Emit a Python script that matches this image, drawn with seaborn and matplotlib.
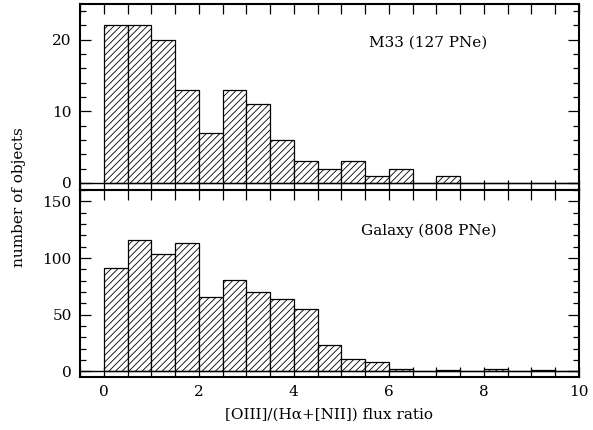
import numpy as np
import matplotlib
matplotlib.use("Agg")
import matplotlib.pyplot as plt
from matplotlib.ticker import MultipleLocator
import seaborn as sns

# bins in [OIII]/(Ha+[NII]) flux ratio
bin_edges = [0.0, 0.5, 1.0, 1.5, 2.0, 2.5, 3.0, 3.5, 4.0, 4.5, 5.0,
             5.5, 6.0, 6.5, 7.0, 7.5, 8.0, 8.5, 9.0, 9.5, 10.0]
m33_counts = [22, 22, 20, 13, 7, 13, 11, 6, 3, 2,
              3, 1, 2, 0, 1, 0, 0, 0, 0, 0]
galaxy_counts = [91, 116, 104, 113, 66, 81, 70, 64, 55, 23,
                 11, 8, 2, 0, 1, 0, 2, 0, 1, 0]
x_ticks = [0, 2, 4, 6, 8, 10]
m33_label = "M33 (127 PNe)"
galaxy_label = "Galaxy (808 PNe)"

sns.set_theme(style="ticks")
plt.rcParams['font.family'] = ['DejaVu Serif']
plt.rcParams['hatch.linewidth'] = 0.6
plt.rcParams['hatch.color'] = 'black'
plt.rcParams['text.color'] = 'black'
plt.rcParams['axes.labelcolor'] = 'black'

FS = 11
bin_centers = (np.array(bin_edges[:-1]) + np.array(bin_edges[1:])) / 2

fig = plt.figure(figsize=(5.93, 4.30), dpi=100)
ax_top = fig.add_axes([0.135, 0.558, 0.841, 0.433])
ax_bot = fig.add_axes([0.135, 0.123, 0.841, 0.435])

panels = [
    (ax_top, m33_counts, (-1, 25), 10, 2, m33_label, (6.82, 19.6)),
    (ax_bot, galaxy_counts, (-5, 160), 50, 10, galaxy_label, (6.85, 124)),
]

for ax, counts, ylim, ymaj, ymin, label, pos in panels:
    sns.histplot(x=bin_centers, weights=counts, bins=bin_edges, ax=ax,
                 color='white', edgecolor='black', linewidth=0.9,
                 hatch='/////', alpha=1)
    ax.axhline(0, color='black', linewidth=1.0)
    ax.set_xlim(-0.5, 10)
    ax.set_ylim(*ylim)
    ax.set_ylabel("")
    ax.set_xlabel("")
    ax.xaxis.set_major_locator(MultipleLocator(2))
    ax.xaxis.set_minor_locator(MultipleLocator(0.5))
    ax.yaxis.set_major_locator(MultipleLocator(ymaj))
    ax.yaxis.set_minor_locator(MultipleLocator(ymin))
    ax.tick_params(axis='both', which='both', direction='in',
                   top=True, right=True, width=0.9, labelsize=FS, colors='black')
    ax.tick_params(axis='x', which='both', length=7)
    ax.tick_params(axis='y', which='major', length=8)
    ax.tick_params(axis='y', which='minor', length=4)
    ax.tick_params(axis='both', which='major', pad=6)
    for sp in ax.spines.values():
        sp.set_linewidth(1.5)
        sp.set_color('black')
    ax.text(pos[0], pos[1], label, ha='center', va='center',
            fontsize=FS, color='black')

ax_top.tick_params(axis='x', labelbottom=False)
ax_bot.set_xticks(x_ticks)
ax_bot.set_xlabel("[OIII]/(Hα+[NII]) flux ratio", fontsize=FS, labelpad=6)
fig.text(0.032, 0.542, "number of objects", rotation=90,
         ha='center', va='center', fontsize=FS, color='black')

plt.savefig("out.png", dpi=100)
plt.close()
